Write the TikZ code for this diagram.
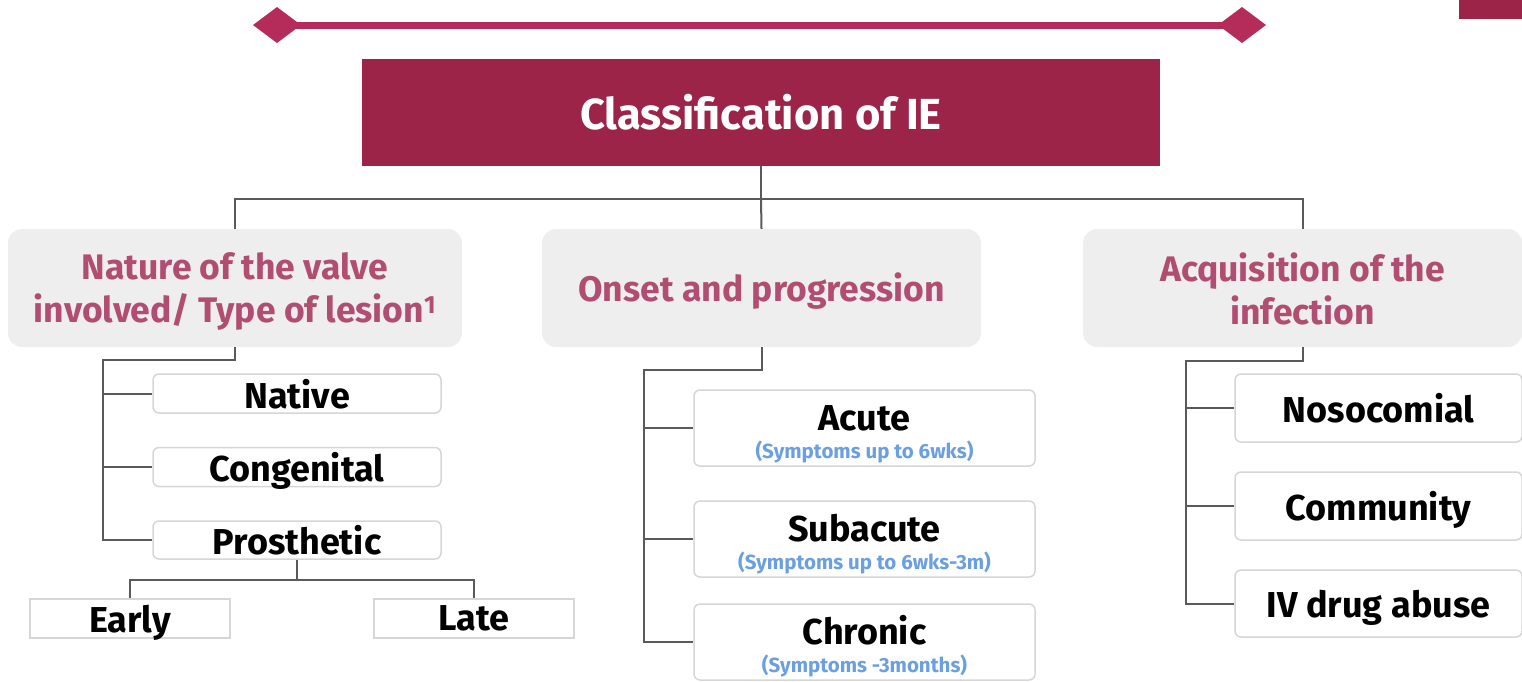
\documentclass[tikz,border=0pt]{standalone}
\usepackage{fontspec}
\setmainfont{Fira Sans}
\usetikzlibrary{calc}
\definecolor{titlered}{HTML}{9C2449}
\definecolor{linered}{HTML}{B52B5A}
\definecolor{catpink}{HTML}{B14D70}
\definecolor{catgray}{HTML}{EEEEEE}
\definecolor{conngray}{HTML}{5A5A5A}
\definecolor{boxborder}{HTML}{D6D6D6}
\definecolor{subblue}{HTML}{6A9FE0}
\tikzset{
  conn/.style={draw=conngray, line width=2pt},
  catbox/.style={fill=catgray, rounded corners=14pt, minimum width=454, minimum height=118, inner sep=0pt},
  cattext/.style={inner sep=0pt, align=center, text=catpink, font=\fontsize{35.5}{43}\selectfont\bfseries},
  childbox/.style={draw=boxborder, line width=1.5pt, fill=white, rounded corners=6pt, inner sep=0pt, align=center, text depth=0pt, font=\fontsize{36}{38}\selectfont\bfseries},
  leafbox/.style={draw=boxborder, line width=1.5pt, fill=white, inner sep=0pt, minimum width=200, minimum height=39, text depth=0pt, font=\fontsize{36}{38}\selectfont\bfseries},
  maintext/.style={anchor=base, inner sep=0pt, font=\fontsize{36}{38}\selectfont\bfseries},
  subtext/.style={anchor=base, inner sep=0pt, text=subblue, font=\fontsize{20.5}{22}\selectfont\bfseries},
  diam/.style={fill=linered, draw=none},
}
\begin{document}
\begin{tikzpicture}[x=1pt,y=-1pt]
\useasboundingbox (0,0) rectangle (1522,681);
% decorative top line
\draw[linered, line width=7pt] (290,25.5) -- (1232,25.5);
\fill[diam] (253,25) -- (277,7) -- (301,25) -- (277,43) -- cycle;
\fill[diam] (1218,25) -- (1242,7) -- (1266,25) -- (1242,43) -- cycle;
\fill[titlered] (1459,0) rectangle (1522,19);
% title
\node[fill=titlered, minimum width=798, minimum height=107, inner sep=0pt, text=white, font=\fontsize{43.5}{46}\selectfont\bfseries] (title) at (761,112.5) {Classification of IE};
% categories
\node[catbox] (cat1) at (235,288) {};
\node[cattext] (cat1T) at ($(cat1.center)+(0,3)$) {Nature of the valve\\involved/ Type of lesion\textsuperscript{1}};
\node[catbox, minimum width=439] (cat2) at (761.5,288) {};
\node[cattext] (cat2T) at ($(cat2.center)+(0,3)$) {Onset and progression};
\node[catbox, minimum width=439] (cat3) at (1302.5,288) {};
\node[cattext] (cat3T) at ($(cat3.center)+(0,1)$) {Acquisition of the\\infection};
\draw[conn] (title.south) -- ++(0,33) coordinate (hub);
\draw[conn] (cat1.north) |- (hub) -| (cat3.north);
\draw[conn] (hub) -- (cat2.north);
% left branch
\node[childbox, minimum width=288, minimum height=39] (native) at (297,393.5) {Native};
\node[childbox, minimum width=288, minimum height=39] (cong) at (297,467) {Congenital};
\node[childbox, minimum width=288, minimum height=38] (prost) at (297,540) {Prosthetic};
\coordinate (lspine) at (103,360);
\draw[conn] (cat1.south) |- (lspine) |- (prost.west);
\draw[conn] (lspine |- native.west) -- (native.west);
\draw[conn] (lspine |- cong.west) -- (cong.west);
\node[leafbox] (early) at (130,618.5) {Early};
\node[leafbox] (late) at (474,618.5) {Late};
\draw[conn] (prost.south) -- ++(0,20) coordinate (phub);
\draw[conn] (early.north) |- (phub) -| (late.north);
% middle branch
\node[childbox, minimum width=341, minimum height=76] (acute) at (864.5,428) {};
\node[maintext] (acuteT) at ($(acute.center)+(0,2)$) {Acute};
\node[subtext] (acuteS) at ($(acute.center)+(0,30)$) {(Symptoms up to 6wks)};
\node[childbox, minimum width=341, minimum height=76] (subac) at (864.5,539) {};
\node[maintext] (subacT) at ($(subac.center)+(0,2)$) {Subacute};
\node[subtext] (subacS) at ($(subac.center)+(0,30)$) {(Symptoms up to 6wks-3m)};
\node[childbox, minimum width=341, minimum height=76] (chron) at (864.5,642) {};
\node[maintext] (chronT) at ($(chron.center)+(0,2)$) {Chronic};
\node[subtext] (chronS) at ($(chron.center)+(0,30)$) {(Symptoms -3months)};
\coordinate (mspine) at (644,370);
\draw[conn] (cat2.south) |- (mspine) |- (chron.west);
\draw[conn] (mspine |- acute.west) -- (acute.west);
\draw[conn] (mspine |- subac.west) -- (subac.west);
% right branch
\node[childbox, minimum width=287, minimum height=68] (noso) at (1378.5,408) {Nosocomial};
\node[childbox, minimum width=287, minimum height=68] (comm) at (1378.5,506) {Community};
\node[childbox, minimum width=287, minimum height=67] (ivdrug) at (1378.5,603.5) {IV drug abuse};
\coordinate (rspine) at (1186,361);
\draw[conn] (cat3.south) |- (rspine) |- (ivdrug.west);
\draw[conn] (rspine |- noso.west) -- (noso.west);
\draw[conn] (rspine |- comm.west) -- (comm.west);
\end{tikzpicture}
\end{document}
